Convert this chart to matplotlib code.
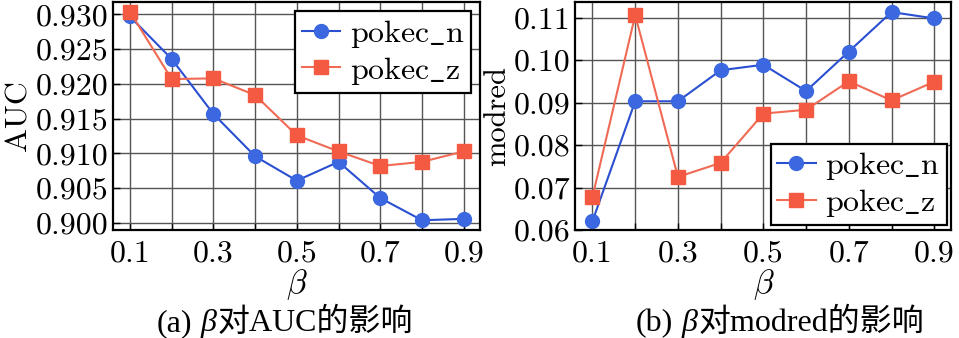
import matplotlib
matplotlib.use('Agg')
import matplotlib.pyplot as plt
import numpy as np

plt.rcParams['font.family'] = ['cmr10', 'Liberation Serif', 'DejaVu Serif']
plt.rcParams['mathtext.fontset'] = 'cm'
plt.rcParams['axes.formatter.use_mathtext'] = True

beta = [0.1, 0.2, 0.3, 0.4, 0.5, 0.6, 0.7, 0.8, 0.9]
auc_n = [0.9297, 0.9236, 0.9157, 0.9096, 0.9061, 0.9088, 0.9036, 0.9004, 0.9006]
auc_z = [0.9304, 0.9207, 0.9208, 0.9184, 0.9126, 0.9103, 0.9082, 0.9088, 0.9103]
mod_n = [0.0621, 0.0903, 0.0903, 0.0976, 0.0989, 0.0927, 0.1020, 0.1113, 0.1098]
mod_z = [0.0678, 0.1106, 0.0725, 0.0758, 0.0874, 0.0883, 0.0950, 0.0905, 0.0949]
names = [r'$\mathrm{pokec\_n}$', r'$\mathrm{pokec\_z}$']

blue_line = '#2a4fd0'
blue_mk = '#3b68e0'
red_line = '#f06a55'
red_mk = '#f45a42'

fig = plt.figure(figsize=(9.59, 3.38), dpi=100)
ax1 = fig.add_axes([0.118, 0.3195, 0.383, 0.675])
ax2 = fig.add_axes([0.600, 0.3195, 0.392, 0.675])


def style(ax):
    ax.set_xlim(0.06, 0.94)
    ax.set_xticks(beta)
    ax.set_xticklabels(['0.1', '', '0.3', '', '0.5', '', '0.7', '', '0.9'])
    ax.grid(True, color='#555555', linewidth=1.0)
    ax.tick_params(direction='in', length=5, width=1, labelsize=23)
    ax.tick_params(axis='x', pad=7)
    for s in ax.spines.values():
        s.set_linewidth(1.6)
    ax.set_xlabel(r'$\beta$', fontsize=24, labelpad=0)


def legend(ax, loc, bpad):
    leg = ax.legend(loc=loc, fontsize=23, frameon=True, fancybox=False,
                    edgecolor='black', borderpad=0.2, handlelength=1.2,
                    handletextpad=0.3, labelspacing=0.15, borderaxespad=bpad)
    leg.get_frame().set_linewidth(1.6)
    leg.get_frame().set_alpha(1)


ax1.plot(beta, auc_n, '-o', color=blue_line, mfc=blue_mk, mec=blue_mk,
         ms=10, lw=1.5, label=names[0])
ax1.plot(beta, auc_z, '-s', color=red_line, mfc=red_mk, mec=red_mk,
         ms=10, lw=1.5, label=names[1])
style(ax1)
ax1.set_ylim(0.899, 0.9318)
ax1.set_yticks([0.900, 0.905, 0.910, 0.915, 0.920, 0.925, 0.930])
ax1.set_yticklabels(['0.900', '0.905', '0.910', '0.915', '0.920', '0.925', '0.930'])
ax1.set_ylabel('AUC', fontsize=23, labelpad=2)
legend(ax1, 'upper right', 0.3)

ax2.plot(beta, mod_n, '-o', color=blue_line, mfc=blue_mk, mec=blue_mk,
         ms=10, lw=1.5, label=names[0])
ax2.plot(beta, mod_z, '-s', color=red_line, mfc=red_mk, mec=red_mk,
         ms=10, lw=1.5, label=names[1])
style(ax2)
ax2.set_ylim(0.06, 0.1137)
ax2.set_yticks([0.06, 0.07, 0.08, 0.09, 0.10, 0.11])
ax2.set_yticklabels(['0.06', '0.07', '0.08', '0.09', '0.10', '0.11'])
ax2.set_ylabel('modred', fontsize=22, labelpad=2)
legend(ax2, 'lower right', 0.15)

# captions: "(a)" + italic beta + CJK text, chained side by side
cap_font = ['Liberation Serif', 'Noto Sans CJK SC']


def caption(x, head, tail):
    t0 = fig.text(x, 0.02, head, ha='left', va='baseline', fontsize=23,
                  family=cap_font)
    a1 = plt.annotate('β', xy=(1, 0), xycoords=t0, xytext=(6, 0),
                      textcoords='offset points', va='bottom', fontsize=23,
                      family='Liberation Serif', style='italic',
                      annotation_clip=False)
    plt.annotate(tail, xy=(1, 0), xycoords=a1, xytext=(1, 0),
                 textcoords='offset points', va='bottom', fontsize=23,
                 family=cap_font, annotation_clip=False)


caption(0.163, '(a)', '对AUC的影响')
caption(0.663, '(b)', '对modred的影响')

fig.savefig('out.png', dpi=100)
